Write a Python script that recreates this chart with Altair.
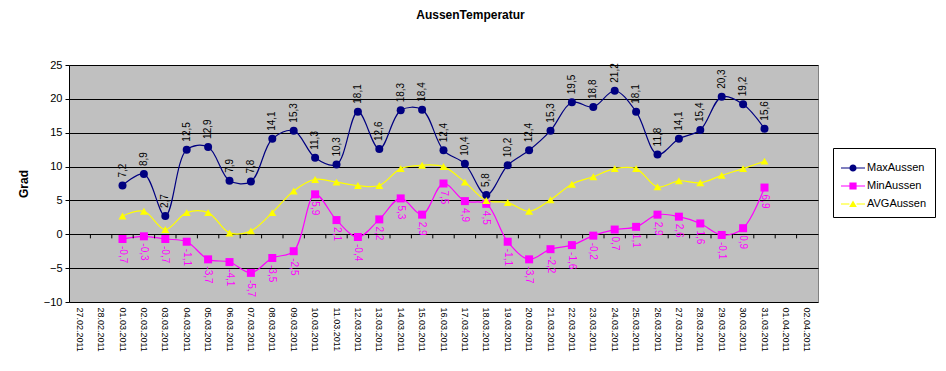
import altair as alt
import pandas as pd

all_dates = ["27.02.2011", "28.02.2011"] + [f"{d:02d}.03.2011" for d in range(1, 32)] + ["01.04.2011", "02.04.2011"]
data_dates = [f"{d:02d}.03.2011" for d in range(1, 32)]

series_names = ["MaxAussen", "MinAussen", "AVGAussen"]
series_colors = ["#000080", "#FF00FF", "#FFFF00"]

max_vals = [7.2, 8.9, 2.7, 12.5, 12.9, 7.9, 7.8, 14.1, 15.3, 11.3, 10.3, 18.1, 12.6, 18.3, 18.4, 12.4,
            10.4, 5.8, 10.2, 12.4, 15.3, 19.5, 18.8, 21.2, 18.1, 11.8, 14.1, 15.4, 20.3, 19.2, 15.6]
min_vals = [-0.7, -0.3, -0.7, -1.1, -3.7, -4.1, -5.7, -3.5, -2.5, 5.9, 2.1, -0.4, 2.2, 5.3, 2.9, 7.5,
            4.9, 4.5, -1.1, -3.7, -2.2, -1.6, -0.2, 0.7, 1.1, 2.9, 2.6, 1.6, -0.1, 0.9, 6.9]
avg_vals = [2.7, 3.4, 0.7, 3.2, 3.2, 0.2, 0.5, 3.2, 6.4, 8.1, 7.7, 7.2, 7.2, 9.7, 10.2, 10.0,
            7.7, 5.0, 4.7, 3.4, 5.1, 7.4, 8.5, 9.7, 9.7, 7.0, 7.9, 7.6, 8.7, 9.7, 10.8]

rows = []
for name, vals in zip(series_names, [max_vals, min_vals, avg_vals]):
    for d, v in zip(data_dates, vals):
        rows.append({"date": d, "series": name, "value": v,
                     "label": f"{v:.1f}".replace(".", ",")})
df = pd.DataFrame(rows)

FONT = "Liberation Sans"

xscale = alt.Scale(type="band", domain=all_dates, paddingInner=0, paddingOuter=0)
yscale = alt.Scale(domain=[-10, 25], nice=False, zero=False)

xaxis = alt.Axis(labelAngle=90, labelAlign="left", labelBaseline="middle", labelFontSize=9,
                 labelPadding=5, ticks=False, domain=False, grid=False, title=None,
                 labelFont=FONT, labelColor="black", labelOverlap=False)
yaxis = alt.Axis(values=[-10, -5, 0, 5, 10, 15, 20, 25], grid=True, gridColor="black", gridOpacity=1,
                 domain=True, domainColor="black", tickColor="black", tickSize=4,
                 labelFontSize=11, labelFont=FONT, labelColor="black", labelPadding=3,
                 labelOverlap=False,
                 title="Grad", titleFont=FONT, titleFontSize=12, titleFontWeight="bold",
                 titleColor="black", titlePadding=13)


def X(**kw):
    return alt.X("date:N", scale=xscale, axis=xaxis, **kw)


def Y():
    return alt.Y("value:Q", scale=yscale, axis=yaxis)


base = alt.Chart(df)

shapes = ["circle", "square", "triangle-up"]
line_layers = []
point_layers = []
for name, col, shp in zip(series_names, series_colors, shapes):
    sub = base.transform_filter(alt.datum.series == name)
    line_layers.append(sub.mark_line(interpolate="catmull-rom", strokeWidth=1.2, color=col).encode(x=X(), y=Y()))
    point_layers.append(sub.mark_point(shape=shp, filled=True, size=64, opacity=1, color=col).encode(x=X(), y=Y()))

max_text = base.transform_filter(alt.datum.series == "MaxAussen").mark_text(
    angle=270, align="left", baseline="middle", dx=8, fontSize=10, font=FONT, color="black"
).encode(x=X(), y=Y(), text="label:N")

min_text = base.transform_filter(alt.datum.series == "MinAussen").mark_text(
    angle=90, align="left", baseline="middle", dx=7, fontSize=10, font=FONT, color="#FF00FF"
).encode(x=X(), y=Y(), text="label:N")

tick_df = pd.DataFrame({"date": all_dates[1:], "y0": [0.0] * 34, "y1": [-0.6] * 34})
ticks = alt.Chart(tick_df).mark_rule(color="black", strokeWidth=1).encode(
    x=X(bandPosition=0),
    y=alt.Y("y0:Q", scale=yscale, axis=yaxis),
    y2="y1:Q",
)

# legend layer: points placed outside the plot (clipped), carries the legend with line+marker symbols
seg = "M-1,-0.045H-0.3V0.045H-1Z M0.3,-0.045H1V0.045H0.3Z "
legend_paths = [
    seg + "M-0.3,0 A0.3,0.3 0 1,0 0.3,0 A0.3,0.3 0 1,0 -0.3,0 Z",
    seg + "M-0.3,-0.3H0.3V0.3H-0.3Z",
    seg + "M0,-0.3L0.32,0.25H-0.32Z",
]
leg = alt.Legend(title=None, orient="none", legendX=764, legendY=83,
                 symbolSize=576, symbolStrokeWidth=0, symbolOpacity=1,
                 labelFontSize=11, labelFont=FONT, labelColor="black",
                 strokeColor="black", fillColor="white", padding=8,
                 rowPadding=1, labelOffset=2)
leg_df = pd.DataFrame({"series": series_names, "date": ["01.03.2011"] * 3, "value": [1000, 1000, 1000]})
legend_layer = alt.Chart(leg_df).mark_point(filled=True, clip=True, opacity=1).encode(
    x=X(),
    y=Y(),
    color=alt.Color("series:N", scale=alt.Scale(domain=series_names, range=series_colors), legend=leg),
    shape=alt.Shape("series:N", scale=alt.Scale(domain=series_names, range=legend_paths), legend=leg),
)

chart = alt.layer(*line_layers, *point_layers, max_text, min_text, ticks, legend_layer).properties(
    width=749, height=237,
    background="white",
    autosize=alt.AutoSizeParams(type="none"),
    padding={"left": 61, "top": 57, "right": 120, "bottom": 61},
    title=alt.TitleParams("AussenTemperatur", fontSize=12, fontWeight="bold", font=FONT,
                          anchor="middle", dx=27, offset=37, color="black"),
).configure_view(fill="#C0C0C0", stroke="#808080", strokeWidth=1)

chart.save("out.html", embed_options={"renderer": "svg", "actions": False})
